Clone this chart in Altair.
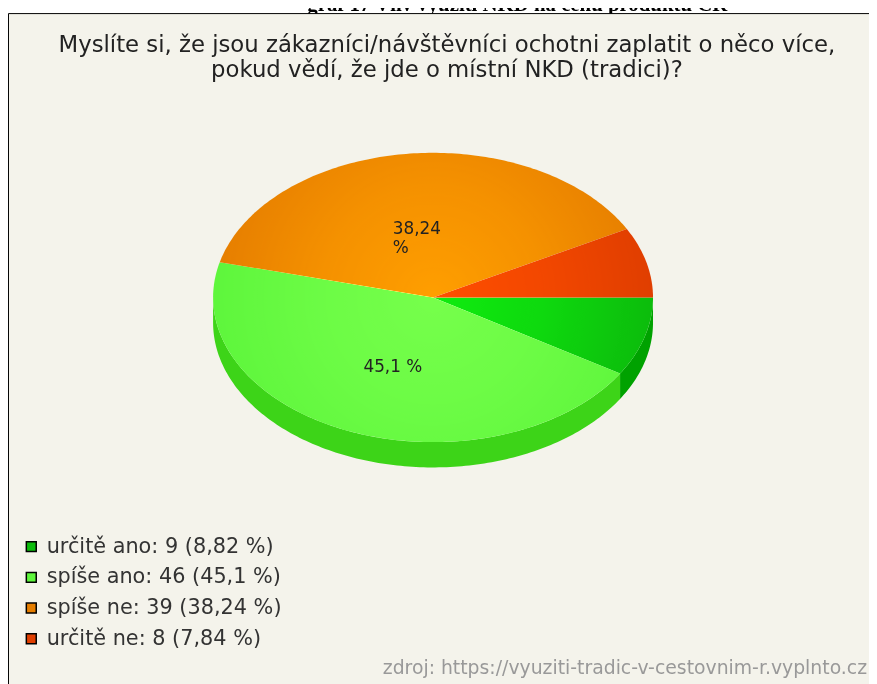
import altair as alt
import numpy as np
import pandas as pd

# ---------------- data ----------------
categories = ["určitě ano", "spíše ano", "spíše ne", "určitě ne"]
counts = [9, 46, 39, 8]
percent_text = ["8,82", "45,1", "38,24", "7,84"]
slice_labels = ["", "45,1 %", "38,24\n%", ""]
top_colors = ["#0cbc0c", "#5ef63c", "#e67e00", "#e03e00"]
side_colors = ["#00a200", "#3dd418", "#c06400", "#b83000"]

question = ["Myslíte si, že jsou zákazníci/návštěvníci ochotni zaplatit o něco více,",
            "pokud vědí, že jde o místní NKD (tradici)?"]
doc_title = "graf 17 Vliv využití NKD na cenu produktu ČR"
source = "zdroj: https://vyuziti-tradic-v-cestovnim-r.vyplnto.cz"

legend_labels = [f"{c}: {n} ({p} %)" for c, n, p in zip(categories, counts, percent_text)]

# ---------------- geometry (built from the data) ----------------
DEPTH = 0.175          # pie thickness, in units of the vertical radius
LABEL_R = 0.5
total = sum(counts)

top_rows, side_rows, label_rows = [], [], []
start = 0.0
for idx, (cat, n) in enumerate(zip(categories, counts)):
    a1 = start
    a2 = start + 360.0 * n / total
    start = a2
    steps = max(2, int(np.ceil(a2 - a1)))
    # top wedge
    pts = [(0.0, 0.0)]
    for k in range(steps + 1):
        t = np.radians(a1 + (a2 - a1) * k / steps)
        pts.append((np.cos(t), np.sin(t)))
    for j, (x, y) in enumerate(pts):
        top_rows.append({"key": legend_labels[idx], "x": x, "y": y, "i": j})
    # visible side wall (front half only)
    s1, s2 = max(a1, 0.0), min(a2, 180.0)
    if s2 > s1:
        ss = max(2, int(np.ceil(s2 - s1)))
        arc = [np.radians(s1 + (s2 - s1) * k / ss) for k in range(ss + 1)]
        poly = [(np.cos(t), np.sin(t)) for t in arc] + \
               [(np.cos(t), np.sin(t) + DEPTH) for t in reversed(arc)]
        for j, (x, y) in enumerate(poly):
            side_rows.append({"key": cat, "col": side_colors[idx], "x": x, "y": y, "i": j})
    # label
    if slice_labels[idx]:
        tm = np.radians((a1 + a2) / 2)
        label_rows.append({"x": LABEL_R * np.cos(tm), "y": LABEL_R * np.sin(tm),
                           "label": slice_labels[idx]})

ell_rows = []
for k in range(361):
    t = np.radians(k)
    ell_rows.append({"x": np.cos(t), "y": np.sin(t), "i": k})

top_df = pd.DataFrame(top_rows)
side_df = pd.DataFrame(side_rows)
lab_df = pd.DataFrame(label_rows)
ell_df = pd.DataFrame(ell_rows)

W, H = 869, 676
CX, CY, RX, RY = 429, 289, 222, 146

xs = alt.Scale(domain=[-1, 1], range=[CX - RX, CX + RX], nice=False, zero=False)
ys = alt.Scale(domain=[-1, 1], range=[CY - RY, CY + RY], nice=False, zero=False)
X = alt.X("x:Q", scale=xs, axis=None)
Y = alt.Y("y:Q", scale=ys, axis=None)

one = alt.Data(values=[{}])

title_txt = alt.Chart(one).mark_text(
    font="Liberation Serif", fontSize=21, fontWeight="bold", color="#000",
    align="center", baseline="alphabetic"
).encode(x=alt.value(514), y=alt.value(0), text=alt.value(doc_title))

frame = alt.Chart(one).mark_rect(
    fill="#f4f3eb", stroke="#000", strokeWidth=1
).encode(x=alt.value(0.5), x2=alt.value(W + 40), y=alt.value(2.5), y2=alt.value(H + 40))

sides = alt.Chart(side_df).mark_line(filled=True, interpolate="linear-closed").encode(
    x=X, y=Y, order=alt.Order("i:Q"), detail="key:N",
    color=alt.Color("col:N", scale=None)
)

tops = alt.Chart(top_df).mark_line(filled=True, interpolate="linear-closed").encode(
    x=X, y=Y, order=alt.Order("i:Q"),
    color=alt.Color("key:N", scale=alt.Scale(domain=legend_labels, range=top_colors),
                    legend=alt.Legend(orient="none", legendX=13, legendY=530, title=None,
                                      symbolType="square", symbolSize=100,
                                      symbolStrokeColor="#000", symbolStrokeWidth=1.5,
                                      symbolOpacity=1,
                                      labelFont="DejaVu Sans", labelFontSize=21,
                                      labelColor="#333", labelOffset=5, rowPadding=9,
                                      labelLimit=400))
)

overlay = alt.Chart(ell_df).mark_line(
    filled=True, interpolate="linear-closed", strokeWidth=0, blend="color-dodge",
    fill={"gradient": "radial", "x1": 0.5, "y1": 0.5, "r1": 0,
          "x2": 0.5, "y2": 0.5, "r2": 0.5,
          "stops": [{"offset": 0, "color": "rgba(52,52,52,1)"},
                    {"offset": 0.5, "color": "rgba(52,52,52,0.6)"},
                    {"offset": 1, "color": "rgba(52,52,52,0)"}]}
).encode(x=X, y=Y, order=alt.Order("i:Q"))

labels = alt.Chart(lab_df).mark_text(
    font="DejaVu Sans", fontSize=17, color="#222", align="left", baseline="alphabetic",
    dx=-27, dy=8, lineBreak="\n", lineHeight=20
).encode(x=X, y=Y, text="label:N")

q_txt = alt.Chart(one).mark_text(
    font="DejaVu Sans", fontSize=23, color="#222", align="center", baseline="middle",
    lineHeight=26
).encode(x=alt.value(443), y=alt.value(34), text=alt.value(question))

src_txt = alt.Chart(one).mark_text(
    font="DejaVu Sans", fontSize=19, color="#999", align="right", baseline="alphabetic"
).encode(x=alt.value(867), y=alt.value(669), text=alt.value(source))

chart = alt.layer(
    title_txt, frame, sides, tops, overlay, labels, q_txt, src_txt
).resolve_scale(color="independent").properties(
    width=W, height=H, padding=0, background="white",
    autosize=alt.AutoSizeParams(type="none")
).configure_view(stroke=None)

chart.save("out.html", embed_options={"renderer": "svg", "actions": False})
